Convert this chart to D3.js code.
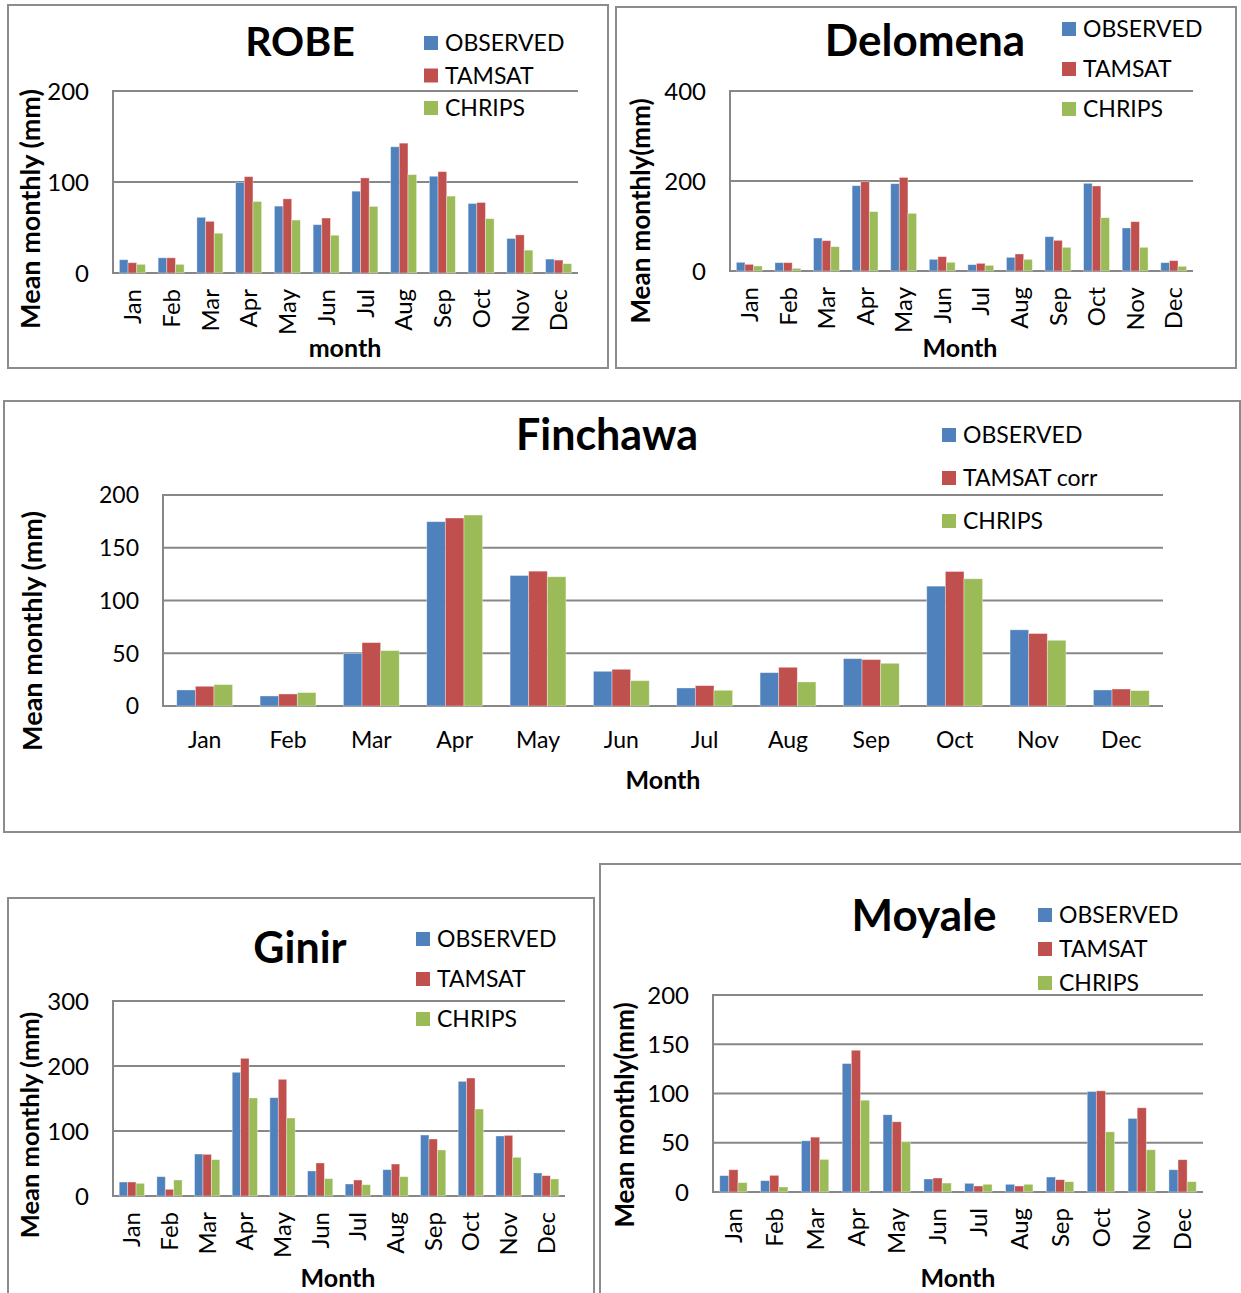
<!DOCTYPE html>
<html>
<head>
<meta charset="utf-8">
<script src="https://cdn.jsdelivr.net/npm/d3@7"></script>
<style>
  html, body { margin: 0; padding: 0; background: #fff; }
  svg { display: block; font-family: Lato, "Open Sans", sans-serif; }
</style>
</head>
<body>
<svg id="chart" width="1241" height="1293"></svg>
<script>
// Mean monthly rainfall (mm): station observations vs. TAMSAT and CHIRPS estimates
const months = ["Jan","Feb","Mar","Apr","May","Jun","Jul","Aug","Sep","Oct","Nov","Dec"];
const seriesColors = ["#4F81BD", "#C0504D", "#9BBB59"];

const robeObserved = [14.6, 16.7, 61.2, 99.4, 73.5, 53.1, 89.9, 138.7, 106.3, 76.4, 37.9, 15.3];
const robeTamsat   = [11.3, 16.7, 56.8, 105.9, 81.5, 60.4, 104.5, 142.7, 111.4, 77.5, 41.9, 14.2];
const robeChrips   = [9.5, 9.5, 43.7, 78.6, 58.2, 41.5, 73.2, 108.1, 84.5, 59.7, 25.1, 10.2];
const robeTicks    = [0, 100, 200];

const delomenaObserved = [19.3, 18.5, 73.3, 189.6, 194.0, 25.9, 14.1, 30.4, 76.3, 194.8, 95.6, 18.5];
const delomenaTamsat   = [14.8, 18.5, 67.4, 198.5, 208.0, 31.9, 17.0, 37.8, 68.1, 188.9, 109.6, 23.0];
const delomenaChrips   = [11.1, 5.9, 54.1, 131.9, 128.1, 19.3, 12.6, 25.9, 52.6, 118.5, 52.6, 10.4];
const delomenaTicks    = [0, 200, 400];

const finchawaObserved = [15.2, 9.5, 49.7, 174.7, 123.7, 32.9, 17.1, 31.6, 44.9, 113.6, 72.2, 15.2];
const finchawaTamsat   = [18.7, 11.4, 60.1, 178.2, 127.8, 34.8, 19.3, 36.7, 44.0, 127.5, 68.7, 16.1];
const finchawaChrips   = [20.3, 12.7, 52.5, 181.0, 122.5, 24.0, 14.9, 22.8, 40.5, 120.6, 62.3, 14.6];
const finchawaTicks    = [0, 50, 100, 150, 200];

const ginirObserved = [21.5, 29.7, 64.6, 190.3, 151.3, 38.5, 18.5, 40.5, 93.8, 176.4, 92.3, 35.4];
const ginirTamsat   = [21.5, 10.3, 64.1, 211.8, 179.5, 50.8, 24.6, 49.2, 87.7, 181.5, 93.3, 31.3];
const ginirChrips   = [19.5, 24.6, 55.9, 150.8, 120.0, 26.7, 17.4, 29.7, 70.8, 133.8, 59.5, 26.2];
const ginirTicks    = [0, 100, 200, 300];

const moyaleObserved = [16.6, 11.5, 52.0, 130.4, 78.4, 13.2, 8.8, 7.8, 15.2, 102.0, 74.7, 22.6];
const moyaleTamsat   = [22.6, 16.9, 55.7, 143.9, 71.3, 14.2, 6.1, 6.1, 12.5, 102.7, 85.5, 32.8];
const moyaleChrips   = [9.5, 5.1, 33.1, 93.2, 51.0, 9.1, 7.8, 7.8, 10.5, 61.1, 42.9, 10.5];
const moyaleTicks    = [0, 50, 100, 150, 200];

const legendStd  = ["OBSERVED", "TAMSAT", "CHRIPS"];
const legendCorr = ["OBSERVED", "TAMSAT corr", "CHRIPS"];

const svg = d3.select("#chart");
const gridColor = "#878787";

function drawPanel(p) {
  const g = svg.append("g");

  // panel frame
  g.append("rect")
    .attr("x", p.frame[0]).attr("y", p.frame[1])
    .attr("width", p.frame[2] - p.frame[0]).attr("height", p.frame[3] - p.frame[1])
    .attr("fill", "#fff").attr("stroke", "#8c8c8c").attr("stroke-width", 2);

  const x = d3.scaleBand().domain(months).range([p.plot.left, p.plot.right]).paddingInner(0.33).paddingOuter(0.165);
  const xs = d3.scaleBand().domain([0, 1, 2]).range([0, x.bandwidth()]);
  const y = d3.scaleLinear().domain([0, d3.max(p.ticks)]).range([p.plot.bottom, p.plot.top]);

  // horizontal gridlines
  g.selectAll(".grid").data(p.ticks).join("line")
    .attr("x1", p.plot.left).attr("x2", p.plot.right)
    .attr("y1", d => y(d)).attr("y2", d => y(d))
    .attr("stroke", gridColor).attr("stroke-width", 2);

  // y tick labels
  g.selectAll(".ytick").data(p.ticks).join("text")
    .attr("x", p.plot.left - 24).attr("y", d => y(d))
    .attr("dy", "0.36em").attr("text-anchor", "end")
    .attr("font-size", p.tickSize).attr("fill", "#000")
    .text(d => d);

  // bars
  const rows = months.map((m, i) => ({ m, v: p.series.map(s => s[i]) }));
  const grp = g.selectAll(".grp").data(rows).join("g")
    .attr("transform", d => `translate(${x(d.m)},0)`);
  grp.selectAll("rect").data(d => d.v.map((v, k) => ({ v, k }))).join("rect")
    .attr("x", d => xs(d.k)).attr("width", xs.bandwidth())
    .attr("y", d => y(d.v)).attr("height", d => y(0) - y(d.v))
    .attr("fill", d => seriesColors[d.k])
    .attr("stroke", "rgba(255,255,255,0.45)").attr("stroke-width", 0.8);

  // left axis line
  g.append("line")
    .attr("x1", p.plot.left).attr("x2", p.plot.left)
    .attr("y1", p.plot.top - 1).attr("y2", p.plot.bottom + 1)
    .attr("stroke", gridColor).attr("stroke-width", 2);

  // x tick labels
  if (p.rotateX) {
    g.selectAll(".xtick").data(months).join("text")
      .attr("transform", d => `translate(${x(d) + x.bandwidth() / 2},${p.plot.bottom + 16}) rotate(-90)`)
      .attr("dy", "0.36em").attr("text-anchor", "end")
      .attr("font-size", p.tickSize).attr("fill", "#000")
      .text(d => d);
  } else {
    g.selectAll(".xtick").data(months).join("text")
      .attr("x", d => x(d) + x.bandwidth() / 2).attr("y", p.plot.bottom + 42)
      .attr("text-anchor", "middle")
      .attr("font-size", p.tickSize).attr("fill", "#000")
      .text(d => d);
  }

  // axis titles
  g.append("text")
    .attr("x", p.xTitle[0]).attr("y", p.xTitle[1])
    .attr("text-anchor", "middle").attr("font-weight", "bold")
    .attr("font-size", 25).text(p.xLabel);
  g.append("text")
    .attr("transform", `translate(${p.yTitle[0]},${p.yTitle[1]}) rotate(-90)`)
    .attr("dy", "0.36em").attr("text-anchor", "middle").attr("font-weight", "bold")
    .attr("font-size", p.yTitleSize).text(p.yLabel);

  // chart title
  g.append("text")
    .attr("x", p.title[0]).attr("y", p.title[1])
    .attr("text-anchor", "middle").attr("font-weight", "bold")
    .attr("font-size", p.titleSize).text(p.name);

  // legend
  const lg = g.selectAll(".leg").data(p.legend).join("g")
    .attr("transform", (d, i) => `translate(${p.legendPos[0]},${p.legendPos[1] + i * p.legendStep})`);
  lg.append("rect").attr("x", 0).attr("y", -7).attr("width", 14).attr("height", 14)
    .attr("fill", (d, i) => seriesColors[i]);
  lg.append("text").attr("x", 21).attr("y", 0).attr("dy", "0.36em")
    .attr("font-size", 23).text(d => d);
}

const panels = [
  { name: "ROBE", series: [robeObserved, robeTamsat, robeChrips], ticks: robeTicks,
    frame: [8, 5, 608, 368], plot: { left: 113, right: 578, top: 91, bottom: 273 },
    rotateX: true, tickSize: 24, yTitleSize: 27, titleSize: 41,
    xLabel: "month", yLabel: "Mean monthly (mm)", xTitle: [345, 357], yTitle: [30, 209],
    title: [300, 56], legend: legendStd, legendPos: [424, 43], legendStep: 32.5 },
  { name: "Delomena", series: [delomenaObserved, delomenaTamsat, delomenaChrips], ticks: delomenaTicks,
    frame: [616, 7, 1236, 368], plot: { left: 730, right: 1193, top: 91, bottom: 271 },
    rotateX: true, tickSize: 24, yTitleSize: 26, titleSize: 44,
    xLabel: "Month", yLabel: "Mean monthly(mm)", xTitle: [960, 357], yTitle: [641, 211],
    title: [925, 56], legend: legendStd, legendPos: [1062, 29], legendStep: 40 },
  { name: "Finchawa", series: [finchawaObserved, finchawaTamsat, finchawaChrips], ticks: finchawaTicks,
    frame: [4, 401, 1240, 832], plot: { left: 163, right: 1163, top: 495, bottom: 706 },
    rotateX: false, tickSize: 23, yTitleSize: 27, titleSize: 43,
    xLabel: "Month", yLabel: "Mean monthly (mm)", xTitle: [663, 789], yTitle: [32, 631],
    title: [607, 450], legend: legendCorr, legendPos: [942, 435], legendStep: 43 },
  { name: "Ginir", series: [ginirObserved, ginirTamsat, ginirChrips], ticks: ginirTicks,
    frame: [8, 898, 594, 1310], plot: { left: 113, right: 565, top: 1001, bottom: 1196 },
    rotateX: true, tickSize: 24, yTitleSize: 25.5, titleSize: 43,
    xLabel: "Month", yLabel: "Mean monthly (mm)", xTitle: [338, 1287], yTitle: [30, 1125],
    title: [300, 963], legend: legendStd, legendPos: [416, 939], legendStep: 40 },
  { name: "Moyale", series: [moyaleObserved, moyaleTamsat, moyaleChrips], ticks: moyaleTicks,
    frame: [600, 864, 1250, 1310], plot: { left: 713, right: 1203, top: 995, bottom: 1192 },
    rotateX: true, tickSize: 24, yTitleSize: 26, titleSize: 44,
    xLabel: "Month", yLabel: "Mean monthly(mm)", xTitle: [958, 1287], yTitle: [625, 1115],
    title: [924, 931], legend: legendStd, legendPos: [1038, 915], legendStep: 34 }
];

panels.forEach(drawPanel);
</script>
</body>
</html>
